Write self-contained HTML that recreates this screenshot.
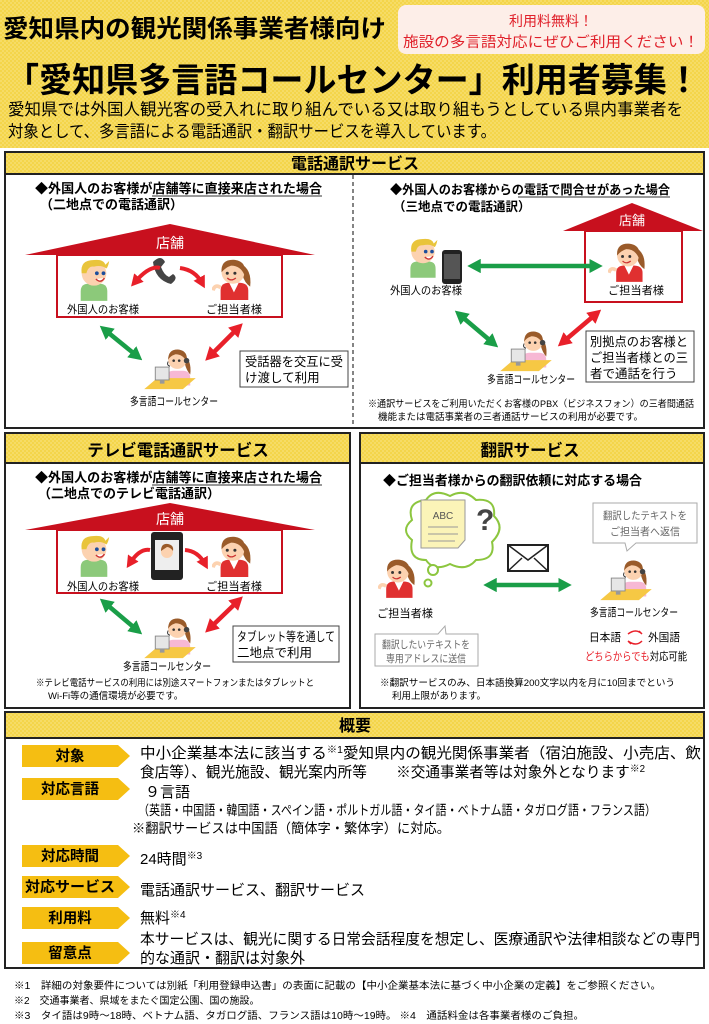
<!DOCTYPE html>
<html><head><meta charset="utf-8"><style>
html,body{margin:0;padding:0;background:#fff;}
svg{display:block;}
text{font-family:"Liberation Sans","Noto Sans CJK JP",sans-serif;}
.b{font-weight:bold;}
</style></head><body>
<svg width="709" height="1024" viewBox="0 0 709 1024" xmlns="http://www.w3.org/2000/svg">
<defs>
<pattern id="dots" width="4" height="4" patternUnits="userSpaceOnUse"><rect width="4" height="4" fill="#f4d54a"/><circle cx="1" cy="1" r="0.9" fill="#f8e27a"/><circle cx="3" cy="3" r="0.9" fill="#f8e27a"/></pattern>
<marker id="ag" markerWidth="3" markerHeight="3.2" refX="1.5" refY="1.6" orient="auto-start-reverse"><path d="M0,0 L3,1.6 L0,3.2z" fill="#1a9e48"/></marker>
<marker id="ar" markerWidth="3" markerHeight="3.2" refX="1.5" refY="1.6" orient="auto-start-reverse"><path d="M0,0 L3,1.6 L0,3.2z" fill="#e8202a"/></marker>
<symbol id="cust" viewBox="0 0 40 46"><path d="M6 46 V36 Q6 28 14 28 H26 Q34 28 34 36 V46Z" fill="#8cc97a"/><circle cx="20" cy="17" r="13" fill="#fcd2b0"/><path d="M7 17 Q5 3 20 3 Q30 2 32 8 L36 4 Q35 10 33 12 Q28 8 20 10 Q14 9 12 17Z" fill="#e9c43b"/><circle cx="23" cy="17" r="2" fill="#1c4e9c"/><circle cx="30" cy="17" r="2" fill="#1c4e9c"/><path d="M22 23 Q27 28 31 22" stroke="#c33" stroke-width="1.5" fill="#fff"/></symbol>
<symbol id="staff" viewBox="0 0 44 46"><path d="M30 8 Q42 14 40 32 Q34 28 32 20Z" fill="#9a5b2a"/><path d="M9 46 V36 Q9 28 18 28 H28 Q38 28 38 36 V46Z" fill="#e03030"/><path d="M18 28 L23 38 L28 28Z" fill="#fff"/><circle cx="22" cy="17" r="12" fill="#fcd2b0"/><path d="M10 17 Q9 3 24 4 Q37 6 34 20 Q30 10 20 10 Q14 12 10 17Z" fill="#9a5b2a"/><circle cx="16" cy="18" r="1.6" fill="#333"/><circle cx="24" cy="18" r="1.6" fill="#333"/><path d="M16 23 Q20 27 25 23" stroke="#c33" stroke-width="1.3" fill="none"/><path d="M1 36 Q3 29 9 33" stroke="#fcd2b0" stroke-width="4" fill="none"/></symbol>
<symbol id="op" viewBox="0 0 60 50"><path d="M26 44 V36 Q26 28 34 28 H44 Q52 28 52 36 V44Z" fill="#f7b8d4"/><path d="M44 10 Q54 16 52 32 Q48 28 46 20Z" fill="#9a5b2a"/><circle cx="38" cy="16" r="10" fill="#fcd2b0"/><path d="M28 16 Q28 4 40 5 Q50 7 48 18 Q44 10 36 10 Q30 12 28 16Z" fill="#9a5b2a"/><circle cx="34" cy="17" r="1.4" fill="#333"/><circle cx="40" cy="17" r="1.4" fill="#333"/><path d="M28 18 Q26 22 30 23" stroke="#333" fill="none"/><circle cx="48" cy="17" r="3" fill="#444"/><path d="M2 48 L16 36 H58 L44 48Z" fill="#f6c844"/><rect x="14" y="24" width="15" height="14" fill="#e6e6e6" stroke="#888"/><rect x="19" y="38" width="5" height="4" fill="#999"/></symbol>
</defs>

<!-- top header -->
<rect x="0" y="0" width="709" height="148" fill="url(#dots)"/>
<text x="3" y="37" font-size="24.5" class="b" textLength="383" lengthAdjust="spacingAndGlyphs">愛知県内の観光関係事業者様向け</text>
<rect x="398" y="5" width="307" height="49" rx="8" fill="#fdeee8"/>
<text x="551" y="26" font-size="14" fill="#e0202a" text-anchor="middle">利用料無料！</text>
<text x="551" y="47" font-size="14.5" fill="#e0202a" text-anchor="middle" textLength="296" lengthAdjust="spacingAndGlyphs">施設の多言語対応にぜひご利用ください！</text>
<text x="6" y="92" font-size="34" class="b" textLength="694" lengthAdjust="spacingAndGlyphs">「愛知県多言語コールセンター」利用者募集！</text>
<text x="8" y="115" font-size="16.5" textLength="675" lengthAdjust="spacingAndGlyphs">愛知県では外国人観光客の受入れに取り組んでいる又は取り組もうとしている県内事業者を</text>
<text x="8" y="137" font-size="16.5" textLength="488" lengthAdjust="spacingAndGlyphs">対象として、多言語による電話通訳・翻訳サービスを導入しています。</text>

<!-- Panel 1 -->
<rect x="5" y="152" width="699" height="22" fill="url(#dots)"/>
<rect x="5" y="152" width="699" height="276" fill="none" stroke="#222" stroke-width="2"/>
<line x1="5" y1="174" x2="704" y2="174" stroke="#222" stroke-width="2"/>
<text x="355" y="169" font-size="16" class="b" text-anchor="middle">電話通訳サービス</text>
<line x1="353" y1="175" x2="353" y2="427" stroke="#333" stroke-width="1.2" stroke-dasharray="4,3"/>

<text x="35" y="193" font-size="13" class="b" textLength="287" lengthAdjust="spacingAndGlyphs">◆外国人のお客様が店舗等に直接来店された場合</text>
<line x1="152" y1="196" x2="322" y2="196" stroke="#333" stroke-width="1"/>
<text x="40" y="209" font-size="13" class="b">（二地点での電話通訳）</text>
<polygon points="25,255 170,224 315,255" fill="#c8101e"/>
<text x="170" y="248" font-size="14" fill="#fff" text-anchor="middle">店舗</text>
<rect x="57" y="255" width="225" height="62" fill="none" stroke="#c8101e" stroke-width="2"/>
<use href="#cust" x="75" y="257" width="38" height="44"/>
<use href="#staff" x="212" y="256" width="42" height="44"/>
<path d="M153 262 q8 -8 12 0 l-4 5 q3 8 8 10 l4 -3 q6 4 -2 10 q-16 -4 -18 -22z" fill="#444"/>
<path d="M135 282 Q150 265 160 268" stroke="#e8202a" stroke-width="4" fill="none" marker-start="url(#ar)"/>
<path d="M180 268 Q195 270 202 283" stroke="#e8202a" stroke-width="4" fill="none" marker-end="url(#ar)"/>
<text x="67" y="313" font-size="11" textLength="72" lengthAdjust="spacingAndGlyphs">外国人のお客様</text>
<text x="206" y="313" font-size="11" textLength="56" lengthAdjust="spacingAndGlyphs">ご担当者様</text>
<line x1="105" y1="330" x2="137" y2="356" stroke="#1a9e48" stroke-width="4.5" marker-start="url(#ag)" marker-end="url(#ag)"/>
<line x1="238" y1="328" x2="210" y2="356" stroke="#e8202a" stroke-width="4.5" marker-start="url(#ar)" marker-end="url(#ar)"/>
<use href="#op" x="142" y="345" width="56" height="46"/>
<text x="130" y="405" font-size="11" textLength="88" lengthAdjust="spacingAndGlyphs">多言語コールセンター</text>
<rect x="240" y="351" width="108" height="36" fill="#fff" stroke="#444"/>
<text x="245" y="366" font-size="12.5" textLength="98" lengthAdjust="spacingAndGlyphs">受話器を交互に受</text>
<text x="245" y="382" font-size="12.5">け渡して利用</text>

<text x="390" y="194" font-size="12.5" class="b" textLength="280" lengthAdjust="spacingAndGlyphs">◆外国人のお客様からの電話で問合せがあった場合</text>
<line x1="518" y1="197" x2="670" y2="197" stroke="#333" stroke-width="1"/>
<text x="393" y="211" font-size="12.5" class="b">（三地点での電話通訳）</text>
<polygon points="563,231 632,203 703,231" fill="#c8101e"/>
<text x="632" y="225" font-size="13" fill="#fff" text-anchor="middle">店舗</text>
<rect x="585" y="231" width="97" height="71" fill="none" stroke="#c8101e" stroke-width="2"/>
<use href="#cust" x="405" y="236" width="36" height="42"/>
<rect x="442" y="250" width="20" height="34" rx="3" fill="#222"/><rect x="444" y="254" width="16" height="25" fill="#555"/>
<use href="#staff" x="608" y="240" width="40" height="42"/>
<text x="390" y="294" font-size="11" textLength="72" lengthAdjust="spacingAndGlyphs">外国人のお客様</text>
<text x="608" y="294" font-size="11" textLength="56" lengthAdjust="spacingAndGlyphs">ご担当者様</text>
<line x1="474" y1="266" x2="596" y2="266" stroke="#1a9e48" stroke-width="4.5" marker-start="url(#ag)" marker-end="url(#ag)"/>
<line x1="460" y1="315" x2="493" y2="343" stroke="#1a9e48" stroke-width="4.5" marker-start="url(#ag)" marker-end="url(#ag)"/>
<line x1="596" y1="314" x2="563" y2="342" stroke="#e8202a" stroke-width="4.5" marker-start="url(#ar)" marker-end="url(#ar)"/>
<use href="#op" x="498" y="327" width="56" height="46"/>
<text x="487" y="383" font-size="11" textLength="88" lengthAdjust="spacingAndGlyphs">多言語コールセンター</text>
<rect x="586" y="331" width="108" height="51" fill="#fff" stroke="#444"/>
<text x="590" y="346" font-size="12.5" textLength="98" lengthAdjust="spacingAndGlyphs">別拠点のお客様と</text>
<text x="590" y="362" font-size="12.5" textLength="98" lengthAdjust="spacingAndGlyphs">ご担当者様との三</text>
<text x="590" y="378" font-size="12.5">者で通話を行う</text>
<text x="368" y="407" font-size="9.5" textLength="326" lengthAdjust="spacingAndGlyphs">※通訳サービスをご利用いただくお客様のPBX（ビジネスフォン）の三者間通話</text>
<text x="378" y="420" font-size="9.5">機能または電話事業者の三者通話サービスの利用が必要です。</text>

<!-- Panel 2 -->
<rect x="5" y="433" width="345" height="30" fill="url(#dots)"/>
<rect x="5" y="433" width="345" height="275" fill="none" stroke="#222" stroke-width="2"/>
<line x1="5" y1="463" x2="350" y2="463" stroke="#222" stroke-width="2"/>
<text x="178" y="456" font-size="16.5" class="b" text-anchor="middle">テレビ電話通訳サービス</text>
<text x="35" y="482" font-size="13" class="b" textLength="287" lengthAdjust="spacingAndGlyphs">◆外国人のお客様が店舗等に直接来店された場合</text>
<line x1="152" y1="485" x2="322" y2="485" stroke="#333" stroke-width="1"/>
<text x="38" y="498" font-size="13" class="b">（二地点でのテレビ電話通訳）</text>
<polygon points="25,530 170,503 315,530" fill="#c8101e"/>
<text x="170" y="524" font-size="14" fill="#fff" text-anchor="middle">店舗</text>
<rect x="57" y="530" width="225" height="63" fill="none" stroke="#c8101e" stroke-width="2"/>
<use href="#cust" x="75" y="533" width="38" height="44"/>
<use href="#staff" x="212" y="533" width="42" height="44"/>
<rect x="151" y="532" width="32" height="48" rx="3" fill="#222"/><rect x="155" y="540" width="24" height="30" fill="#eee"/>
<circle cx="167" cy="552" r="6" fill="#fcd2b0"/><path d="M161 551 q0 -8 7 -7 q6 1 5 7 q-3 -4 -6 -4z" fill="#9a5b2a"/>
<path d="M130 563 Q140 548 150 550" stroke="#e8202a" stroke-width="4" fill="none" marker-start="url(#ar)"/>
<path d="M185 550 Q198 551 205 564" stroke="#e8202a" stroke-width="4" fill="none" marker-end="url(#ar)"/>
<text x="67" y="590" font-size="11" textLength="72" lengthAdjust="spacingAndGlyphs">外国人のお客様</text>
<text x="206" y="590" font-size="11" textLength="56" lengthAdjust="spacingAndGlyphs">ご担当者様</text>
<line x1="105" y1="603" x2="137" y2="630" stroke="#1a9e48" stroke-width="4.5" marker-start="url(#ag)" marker-end="url(#ag)"/>
<line x1="238" y1="601" x2="210" y2="628" stroke="#e8202a" stroke-width="4.5" marker-start="url(#ar)" marker-end="url(#ar)"/>
<use href="#op" x="142" y="614" width="56" height="46"/>
<text x="123" y="670" font-size="11" textLength="88" lengthAdjust="spacingAndGlyphs">多言語コールセンター</text>
<rect x="233" y="626" width="106" height="36" fill="#fff" stroke="#444"/>
<text x="237" y="641" font-size="12.5" textLength="98" lengthAdjust="spacingAndGlyphs">タブレット等を通して</text>
<text x="237" y="657" font-size="12.5">二地点で利用</text>
<text x="36" y="686" font-size="9.5" textLength="278" lengthAdjust="spacingAndGlyphs">※テレビ電話サービスの利用には別途スマートフォンまたはタブレットと</text>
<text x="48" y="699" font-size="9.5">Wi-Fi等の通信環境が必要です。</text>

<!-- Panel 3 -->
<rect x="360" y="433" width="344" height="30" fill="url(#dots)"/>
<rect x="360" y="433" width="344" height="275" fill="none" stroke="#222" stroke-width="2"/>
<line x1="360" y1="463" x2="704" y2="463" stroke="#222" stroke-width="2"/>
<text x="530" y="456" font-size="16.5" class="b" text-anchor="middle">翻訳サービス</text>
<text x="383" y="485" font-size="13" class="b" textLength="259" lengthAdjust="spacingAndGlyphs">◆ご担当者様からの翻訳依頼に対応する場合</text>
<path d="M412 520 q-6 -18 14 -20 q8 -12 24 -4 q14 -8 26 4 q20 -2 18 16 q12 12 -2 26 q4 18 -16 18 q-10 12 -26 4 q-16 8 -24 -4 q-18 0 -14 -20 q-12 -10 0 -20z" fill="#fff" stroke="#8cc63f" stroke-width="2"/>
<circle cx="433" cy="570" r="5" fill="#fff" stroke="#8cc63f" stroke-width="2"/>
<circle cx="428" cy="583" r="3.5" fill="#fff" stroke="#8cc63f" stroke-width="2"/>
<path d="M421 500 H465 V540 L458 548 H421Z" fill="#fbf4b8" stroke="#999"/>
<text x="443" y="519" font-size="10" fill="#555" text-anchor="middle">ABC</text>
<line x1="428" y1="527" x2="458" y2="527" stroke="#999"/><line x1="428" y1="534" x2="458" y2="534" stroke="#999"/><line x1="428" y1="541" x2="455" y2="541" stroke="#999"/>
<text x="476" y="530" font-size="30" class="b" fill="#444">?</text>
<rect x="508" y="545" width="40" height="26" fill="#fff" stroke="#222" stroke-width="2"/>
<path d="M508 545 L528 560 L548 545 M508 571 L522 558 M548 571 L534 558" stroke="#222" stroke-width="1.5" fill="none"/>
<line x1="490" y1="585" x2="565" y2="585" stroke="#1a9e48" stroke-width="4.5" marker-start="url(#ag)" marker-end="url(#ag)"/>
<use href="#staff" x="378" y="556" width="40" height="42"/>
<text x="377" y="617" font-size="11" textLength="56" lengthAdjust="spacingAndGlyphs">ご担当者様</text>
<path d="M593 503 H697 V543 H636 L627 551 L625 543 H593Z" fill="#fff" stroke="#aaa"/>
<text x="645" y="519" font-size="10.5" fill="#666" text-anchor="middle" textLength="84" lengthAdjust="spacingAndGlyphs">翻訳したテキストを</text>
<text x="645" y="535" font-size="10.5" fill="#666" text-anchor="middle" textLength="70" lengthAdjust="spacingAndGlyphs">ご担当者へ返信</text>
<use href="#op" x="598" y="556" width="56" height="46"/>
<text x="590" y="616" font-size="11" textLength="88" lengthAdjust="spacingAndGlyphs">多言語コールセンター</text>
<text x="589" y="641" font-size="11" textLength="32" lengthAdjust="spacingAndGlyphs">日本語</text>
<path d="M628 634 q8 -6 14 0 M642 634 l-3 -3 M628 641 q8 6 14 0 M628 641 l3 3" stroke="#e8202a" stroke-width="1.5" fill="none"/>
<text x="648" y="641" font-size="11" textLength="32" lengthAdjust="spacingAndGlyphs">外国語</text>
<text x="585" y="660" font-size="11" textLength="102" lengthAdjust="spacingAndGlyphs"><tspan fill="#e8202a">どちらからでも</tspan>対応可能</text>
<path d="M375 634 H438 L445 626 L446 634 H478 V666 H375Z" fill="#fff" stroke="#aaa"/>
<text x="426" y="648" font-size="10.5" fill="#666" text-anchor="middle" textLength="88" lengthAdjust="spacingAndGlyphs">翻訳したいテキストを</text>
<text x="426" y="662" font-size="10.5" fill="#666" text-anchor="middle" textLength="80" lengthAdjust="spacingAndGlyphs">専用アドレスに送信</text>
<text x="380" y="686" font-size="9.5" textLength="295" lengthAdjust="spacingAndGlyphs">※翻訳サービスのみ、日本語換算200文字以内を月に10回までという</text>
<text x="392" y="699" font-size="9.5">利用上限があります。</text>

<!-- Panel 4 -->
<rect x="5" y="712" width="699" height="26" fill="url(#dots)"/>
<rect x="5" y="712" width="699" height="256" fill="none" stroke="#222" stroke-width="2"/>
<line x1="5" y1="738" x2="704" y2="738" stroke="#222" stroke-width="2"/>
<text x="355" y="731" font-size="16" class="b" text-anchor="middle">概要</text>

<g fill="#f5be12">
<polygon points="22,745 118,745 130,756 118,767 22,767"/>
<polygon points="22,778 118,778 130,789 118,800 22,800"/>
<polygon points="22,845 118,845 130,856 118,867 22,867"/>
<polygon points="22,876 118,876 130,887 118,898 22,898"/>
<polygon points="22,907 118,907 130,918 118,929 22,929"/>
<polygon points="22,942 118,942 130,953 118,964 22,964"/>
</g>
<g font-size="14.5" class="b" text-anchor="middle">
<text x="70" y="761">対象</text>
<text x="70" y="794">対応言語</text>
<text x="70" y="861">対応時間</text>
<text x="70" y="892" textLength="90" lengthAdjust="spacingAndGlyphs">対応サービス</text>
<text x="70" y="923">利用料</text>
<text x="70" y="958">留意点</text>
</g>
<g font-size="15">
<text x="140" y="758" textLength="561" lengthAdjust="spacingAndGlyphs">中小企業基本法に該当する<tspan font-size="10" dy="-5">※1</tspan><tspan dy="5">愛知県内の観光関係事業者（宿泊施設、小売店、飲</tspan></text>
<text x="140" y="777" textLength="505" lengthAdjust="spacingAndGlyphs">食店等）、観光施設、観光案内所等　　※交通事業者等は対象外となります<tspan font-size="10" dy="-5">※2</tspan></text>
<text x="145" y="797">９言語</text>
<text x="138" y="815" font-size="13.5" textLength="518" lengthAdjust="spacingAndGlyphs">（英語・中国語・韓国語・スペイン語・ポルトガル語・タイ語・ベトナム語・タガログ語・フランス語）</text>
<text x="132" y="833" font-size="13.5" textLength="318" lengthAdjust="spacingAndGlyphs">※翻訳サービスは中国語（簡体字・繁体字）に対応。</text>
<text x="140" y="864">24時間<tspan font-size="10" dy="-5">※3</tspan></text>
<text x="140" y="895">電話通訳サービス、翻訳サービス</text>
<text x="140" y="923">無料<tspan font-size="10" dy="-5">※4</tspan></text>
<text x="140" y="944" textLength="560" lengthAdjust="spacingAndGlyphs">本サービスは、観光に関する日常会話程度を想定し、医療通訳や法律相談などの専門</text>
<text x="140" y="963">的な通訳・翻訳は対象外</text>
</g>

<g font-size="10">
<text x="14" y="989" textLength="647" lengthAdjust="spacingAndGlyphs">※1　詳細の対象要件については別紙「利用登録申込書」の表面に記載の【中小企業基本法に基づく中小企業の定義】をご参照ください。</text>
<text x="14" y="1004">※2　交通事業者、県域をまたぐ国定公園、国の施設。</text>
<text x="14" y="1019" textLength="570" lengthAdjust="spacingAndGlyphs">※3　タイ語は9時～18時、ベトナム語、タガログ語、フランス語は10時～19時。 ※4　通話料金は各事業者様のご負担。</text>
</g>
</svg>
</body></html>
